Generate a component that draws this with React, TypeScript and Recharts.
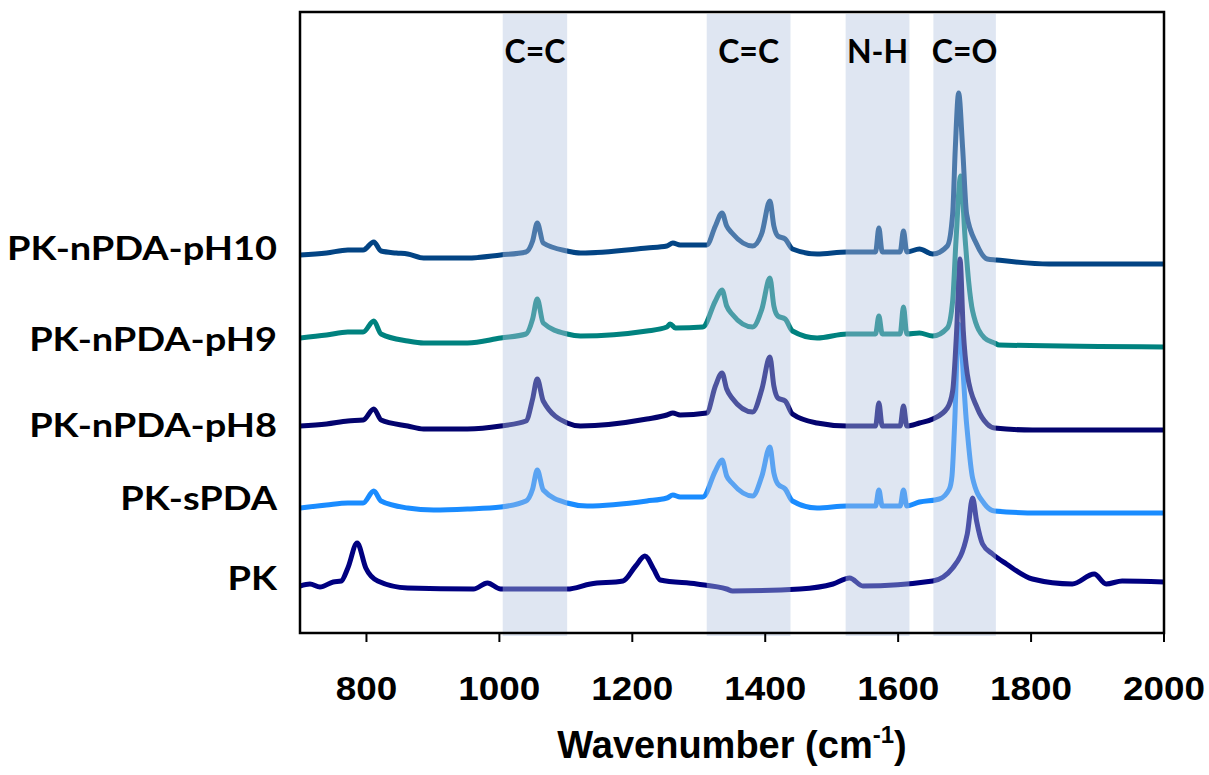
import React from 'react';
import { LineChart, Line, XAxis, YAxis, ReferenceArea } from 'recharts';

// [wavenumber (cm-1), intensity (a.u., offset stacked)]
const pk: [number, number][] = [
  [700, 47], [715, 49], [730, 46], [750, 51], [762, 52], [772, 65], [786, 90], [799, 65], [817, 52],
  [862, 45], [961, 44], [982, 50], [1002, 44], [1102, 44], [1137, 49], [1186, 52], [1205, 67],
  [1219, 77], [1232, 64], [1242, 53], [1297, 49], [1342, 44], [1351, 42], [1452, 44], [1502, 49],
  [1527, 55], [1547, 47], [1652, 52], [1682, 65], [1704, 99], [1712, 135], [1718, 112], [1727, 89],
  [1742, 79], [1763, 69], [1802, 54], [1862, 49], [1895, 59], [1913, 49], [1937, 52], [2000, 51],
];

const sPDA: [number, number][] = [
  [700, 125], [740, 128], [772, 130], [795, 130], [811, 142], [822, 132], [862, 125], [901, 123],
  [952, 124], [1002, 126], [1040, 132], [1050, 144], [1057, 163], [1066, 143], [1102, 130],
  [1132, 127], [1222, 132], [1252, 135], [1261, 138], [1272, 136], [1306, 136], [1325, 162],
  [1335, 173], [1342, 157], [1350, 150], [1381, 137], [1395, 157], [1407, 186], [1413, 160],
  [1419, 149], [1430, 144], [1441, 132], [1478, 125], [1523, 127], [1566, 127], [1571, 143],
  [1576, 127], [1603, 127], [1608, 143], [1613, 127], [1632, 131], [1662, 134], [1677, 144],
  [1681, 157], [1685, 209], [1691, 309], [1703, 209], [1712, 155], [1730, 129], [1745, 122],
  [1812, 120], [2000, 120],
];

const pH8: [number, number][] = [
  [700, 207], [740, 209], [772, 212], [795, 213], [811, 224], [822, 213], [862, 207], [886, 204],
  [952, 204], [1002, 207], [1040, 212], [1050, 234], [1057, 254], [1066, 232], [1102, 210],
  [1122, 207], [1222, 214], [1252, 218], [1261, 220], [1272, 218], [1312, 220], [1325, 247],
  [1335, 260], [1342, 244], [1350, 235], [1381, 221], [1395, 244], [1407, 276], [1413, 247],
  [1419, 235], [1430, 232], [1441, 219], [1478, 210], [1523, 207], [1566, 207], [1571, 230],
  [1576, 207], [1603, 207], [1608, 227], [1613, 207], [1632, 210], [1652, 214], [1674, 225],
  [1682, 242], [1688, 302], [1693, 374], [1698, 302], [1704, 259], [1719, 225], [1734, 209],
  [1745, 205], [1802, 203], [2000, 203],
];

const pH9: [number, number][] = [
  [700, 295], [740, 298], [772, 301], [795, 301], [811, 312], [822, 299], [862, 292], [886, 290],
  [952, 290], [1002, 295], [1040, 299], [1050, 314], [1057, 334], [1066, 310], [1102, 299],
  [1122, 297], [1222, 302], [1252, 306], [1257, 309], [1265, 305], [1306, 306], [1325, 332],
  [1335, 343], [1342, 327], [1350, 319], [1381, 306], [1395, 324], [1407, 355], [1413, 327],
  [1419, 317], [1430, 314], [1441, 302], [1478, 295], [1523, 299], [1566, 299], [1571, 317],
  [1576, 299], [1603, 299], [1608, 326], [1613, 299], [1632, 300], [1652, 297], [1674, 305],
  [1682, 332], [1687, 392], [1694, 457], [1701, 392], [1706, 352], [1712, 322], [1730, 295],
  [1745, 290], [1752, 288], [2000, 286],
];

const pH10: [number, number][] = [
  [700, 378], [740, 380], [772, 383], [795, 383], [811, 391], [822, 382], [845, 380], [862, 379], [886, 375],
  [952, 375], [1002, 378], [1040, 381], [1050, 392], [1057, 410], [1066, 390], [1102, 382],
  [1122, 380], [1222, 385], [1252, 387], [1261, 390], [1272, 388], [1312, 388], [1325, 407],
  [1335, 420], [1342, 407], [1350, 400], [1381, 387], [1395, 400], [1407, 432], [1413, 407],
  [1419, 397], [1430, 394], [1441, 384], [1478, 379], [1523, 381], [1566, 381], [1571, 405],
  [1576, 381], [1603, 381], [1608, 402], [1613, 381], [1632, 384], [1652, 379], [1674, 387],
  [1682, 419], [1686, 485], [1691, 540], [1697, 485], [1703, 419], [1718, 389], [1734, 374],
  [1748, 373], [1827, 369], [2000, 369],
];

const seriesNames = ['PK', 'PK-sPDA', 'PK-nPDA-pH8', 'PK-nPDA-pH9', 'PK-nPDA-pH10'];
const seriesLabelLevels = [55, 135, 208, 294, 385];
const seriesColors = ['#000080', '#1a8cff', '#03036e', '#00827f', '#034484'];
const seriesData = [pk, sPDA, pH8, pH9, pH10];

const xTicks = [800, 1000, 1200, 1400, 1600, 1800, 2000];

const bandStarts = [1005, 1312, 1521, 1653];
const bandEnds = [1102, 1438, 1617, 1747];
const bandLabels = ['C=C', 'C=C', 'N-H', 'C=O'];

const toRows = (arr: [number, number][]) => arr.map(([w, v]) => ({ w, v }));

const XTick = (props: any) => {
  const { x, y, payload } = props;
  const s = String(payload.value);
  return (
    <text
      x={x}
      y={y + 56}
      textAnchor="middle"
      fontFamily="'Liberation Sans', Arial, sans-serif"
      fontWeight={700}
      fontSize={34}
      fill="#000"
      textLength={s.length * 20.5}
      lengthAdjust="spacingAndGlyphs"
    >
      {s}
    </text>
  );
};

const YTick = (props: any) => {
  const { x, y, payload } = props;
  const idx = seriesLabelLevels.indexOf(payload.value);
  return (
    <g transform={`translate(${x},${y}) scale(1.15,1)`}>
      <text
        x={0}
        y={0}
        dy="0.36em"
        textAnchor="end"
        fontFamily="Lato, 'Open Sans', sans-serif"
        fontWeight={700}
        fontSize={33}
        fill="#000"
      >
        {idx >= 0 ? seriesNames[idx] : ''}
      </text>
    </g>
  );
};

const XTitle = (props: any) => {
  const vb = props.viewBox || { x: 300, width: 864, y: 633 };
  const cx = vb.x + vb.width / 2;
  return (
    <text
      x={cx}
      y={758}
      textAnchor="middle"
      fontFamily="'Liberation Sans', Arial, sans-serif"
      fontWeight={700}
      fontSize={38}
      fill="#000"
    >
      Wavenumber (cm
      <tspan fontSize={24} dy={-15}>-1</tspan>
      <tspan dy={15}>)</tspan>
    </text>
  );
};

const makeBandLabel = (text: string) => (props: any) => {
  const vb = props.viewBox || {};
  return (
    <text
      x={vb.x + vb.width / 2}
      y={vb.y + 49}
      textAnchor="middle"
      fontFamily="Lato, 'Open Sans', sans-serif"
      fontWeight={700}
      fontSize={32}
      fill="#000"
    >
      {text}
    </text>
  );
};

export default function App() {
  return (
    <div style={{ position: 'absolute', left: 0, top: 0, background: '#fff' }}>
      <LineChart width={1209} height={775} margin={{ top: 12, right: 45, bottom: 42, left: 0 }}>
        <XAxis
          type="number"
          dataKey="w"
          domain={[700, 2000]}
          ticks={xTicks}
          allowDataOverflow
          height={100}
          tickSize={9}
          interval={0}
          axisLine={{ stroke: '#000', strokeWidth: 2 }}
          tickLine={{ stroke: '#000', strokeWidth: 2 }}
          tick={<XTick />}
          label={<XTitle />}
        />
        <YAxis
          type="number"
          dataKey="v"
          domain={[0, 621]}
          allowDataOverflow
          width={300}
          ticks={seriesLabelLevels}
          interval={0}
          tickSize={0}
          tickMargin={23}
          axisLine={false}
          tickLine={false}
          tick={<YTick />}
        />
        {seriesData.map((d, i) => (
          <Line
            key={seriesNames[i]}
            data={toRows(d)}
            dataKey="v"
            type="monotone"
            stroke={seriesColors[i]}
            strokeWidth={5}
            dot={false}
            isAnimationActive={false}
            strokeLinejoin="round"
            strokeLinecap="round"
          />
        ))}
        {bandStarts.map((s, i) => (
          <ReferenceArea
            key={'band' + i}
            x1={s}
            x2={bandEnds[i]}
            y1={-3}
            y2={619}
            ifOverflow="visible"
            fill="#b2c4df"
            fillOpacity={0.42}
            stroke="none"
            zIndex={450}
            label={makeBandLabel(bandLabels[i])}
          />
        ))}
        <ReferenceArea
          x1={700}
          x2={2000}
          y1={0}
          y2={621}
          ifOverflow="visible"
          fill="none"
          stroke="#000"
          strokeWidth={2.5}
          zIndex={460}
        />
      </LineChart>
    </div>
  );
}
